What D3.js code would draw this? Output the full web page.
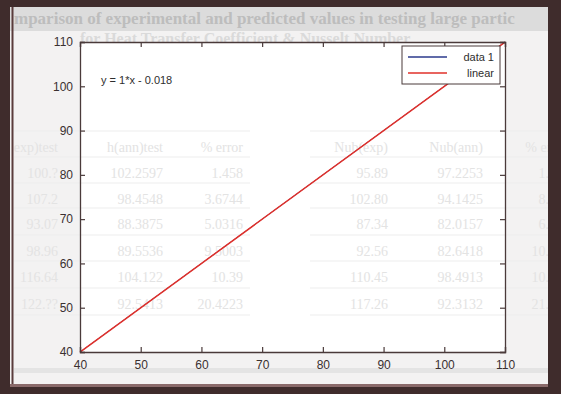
<!DOCTYPE html>
<html>
<head>
<meta charset="utf-8">
<script src="https://cdn.jsdelivr.net/npm/d3@7"></script>
<style>
html,body{margin:0;padding:0;background:#3f2c2c;}
svg{display:block;}
</style>
</head>
<body>
<svg id="chart" width="561" height="394"></svg>
<script>
// ---- data ----
const xTicks = [40, 50, 60, 70, 80, 90, 100, 110];
const yTicks = [40, 50, 60, 70, 80, 90, 100, 110];
const data1X = [40, 55, 70, 85, 100, 110];
const data1Y = [40, 55, 70, 85, 100, 110];
const fitSlope = 1;
const fitIntercept = -0.018;
const fitLabel = "y = 1*x - 0.018";
const legendLabels = ["data 1", "linear"];
const seriesColors = ["#2b3a8c", "#e0302a"];
// faint background page text (scan show-through)
const pageTitle = ["mparison of experimental and predicted values in testing large partic",
                   "for Heat Transfer Coefficient & Nusselt Number"];
const leftHeader = ["exp)test", "h(ann)test", "% error"];
const leftRows = [["100.?", "102.2597", "1.458"],
                  ["107.2", "98.4548", "3.6744"],
                  ["93.07", "88.3875", "5.0316"],
                  ["98.96", "89.5536", "9.5003"],
                  ["116.64", "104.122", "10.39"],
                  ["122.??", "92.5413", "20.4223"]];
const rightHeader = ["Nub(exp)", "Nub(ann)", "% err"];
const rightRows = [["95.89", "97.2253", "1.3"],
                   ["102.80", "94.1425", "8.4"],
                   ["87.34", "82.0157", "6.1"],
                   ["92.56", "82.6418", "10.7"],
                   ["110.45", "98.4913", "10.8"],
                   ["117.26", "92.3132", "21.3"]];

const svg = d3.select("#chart");

svg.append("defs").append("clipPath").attr("id", "page")
  .append("rect").attr("x", 14).attr("y", 7).attr("width", 534).attr("height", 380);

// page background
svg.append("rect").attr("x", 10).attr("y", 7).attr("width", 538).attr("height", 380).attr("fill", "#f3f2f2");
svg.append("rect").attr("x", 10).attr("y", 7).attr("width", 538).attr("height", 24).attr("fill", "#dcdcdc");
svg.append("line").attr("x1", 12.5).attr("x2", 12.5).attr("y1", 7).attr("y2", 387).attr("stroke", "#5a3c3c").attr("stroke-width", 2);
svg.append("rect").attr("x", 14).attr("y", 368).attr("width", 534).attr("height", 5).attr("fill", "#e4e4e4");
svg.append("rect").attr("x", 10).attr("y", 384).attr("width", 538).attr("height", 3).attr("fill", "#8a6a6a");

// faint page title
const titleG = svg.append("g").attr("clip-path", "url(#page)").attr("font-family", "Liberation Serif, serif").attr("font-weight", "bold").attr("fill", "#bdbdbd");
titleG.append("text").attr("x", 14).attr("y", 24).attr("font-size", 17).text(pageTitle[0]);
titleG.append("text").attr("x", 80).attr("y", 44).attr("font-size", 16).attr("fill", "#dadada").text(pageTitle[1]);

// scales
const x = d3.scaleLinear().domain([40, 110]).range([80, 505]);
const y = d3.scaleLinear().domain([40, 110]).range([352, 42]);

svg.append("rect").attr("x", x(40)).attr("y", y(110)).attr("width", x(110) - x(40)).attr("height", y(40) - y(110)).attr("fill", "#ffffff");

// ghost tables
const ghost = svg.append("g").attr("clip-path", "url(#page)").attr("font-family", "Liberation Serif, serif").attr("font-size", 14).attr("fill", "#e3e3e3");
const rowY = [148, 174, 200, 225, 252, 278, 305];
const leftColX = [58, 163, 243];
const rightColX = [388, 483, 556];
[[leftHeader, leftRows, leftColX, 14, 250], [rightHeader, rightRows, rightColX, 310, 561]].forEach(([hdr, rows, cols, x0, x1]) => {
  rowY.forEach((ry) => {
    ghost.append("line").attr("x1", x0).attr("x2", x1).attr("y1", ry - 17).attr("y2", ry - 17).attr("stroke", "#ededed");
  });
  ghost.append("line").attr("x1", x0).attr("x2", x1).attr("y1", rowY[6] + 10).attr("y2", rowY[6] + 10).attr("stroke", "#ededed");
  const all = [hdr].concat(rows);
  all.forEach((r, i) => {
    r.forEach((t, j) => {
      ghost.append("text").attr("x", cols[j]).attr("y", rowY[i] + 4).attr("text-anchor", "end").text(t);
    });
  });
});

// lines
const line = d3.line().x(d => x(d[0])).y(d => y(d[1]));
const data1 = data1X.map((v, i) => [v, data1Y[i]]);
svg.append("path").datum(data1).attr("d", line).attr("fill", "none").attr("stroke", seriesColors[0]).attr("stroke-width", 0.9);
const fit = x.domain().map(v => [v, fitSlope * v + fitIntercept]);
svg.append("path").datum(fit).attr("d", line).attr("fill", "none").attr("stroke", seriesColors[1]).attr("stroke-width", 1.5);

// axes box
const axisColor = "#4a3a3a";
const xAxisB = d3.axisBottom(x).tickValues(xTicks).tickSize(-5).tickPadding(8);
const xAxisT = d3.axisTop(x).tickValues(xTicks).tickSize(-5).tickFormat("");
const yAxisL = d3.axisLeft(y).tickValues(yTicks).tickSize(-5).tickPadding(7);
const yAxisR = d3.axisRight(y).tickValues(yTicks).tickSize(-5).tickFormat("");
[[xAxisB, `translate(0,${y(40)})`], [xAxisT, `translate(0,${y(110)})`], [yAxisL, `translate(${x(40)},0)`], [yAxisR, `translate(${x(110)},0)`]].forEach(([ax, tr]) => {
  const g = svg.append("g").attr("transform", tr).call(ax);
  g.selectAll(".domain").attr("stroke", axisColor).attr("stroke-width", 1.3);
  g.selectAll(".tick line").attr("stroke", axisColor).attr("stroke-width", 1.2);
  g.selectAll(".tick text").attr("fill", "#3a3030").attr("font-family", "Liberation Sans, Arial, sans-serif").attr("font-size", 12);
});

// equation label
svg.append("text").attr("x", 101).attr("y", 84).attr("font-family", "Liberation Sans, Arial, sans-serif").attr("font-size", 11).attr("fill", "#2e2e2e").text(fitLabel);

// legend
const lg = svg.append("g");
lg.append("rect").attr("x", 402).attr("y", 46).attr("width", 98).attr("height", 38).attr("fill", "#ffffff").attr("stroke", axisColor).attr("stroke-width", 1);
legendLabels.forEach((lab, i) => {
  const ly = 57 + i * 16;
  lg.append("line").attr("x1", 408).attr("x2", 447).attr("y1", ly).attr("y2", ly).attr("stroke", seriesColors[i]).attr("stroke-width", 1.3);
  lg.append("text").attr("x", 494).attr("y", ly + 4).attr("text-anchor", "end").attr("font-family", "Liberation Sans, Arial, sans-serif").attr("font-size", 11).attr("fill", "#2e2e2e").text(lab);
});
</script>
</body>
</html>
